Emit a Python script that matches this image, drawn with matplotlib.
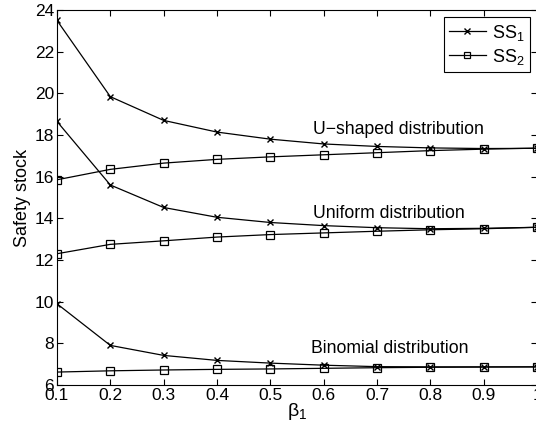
import matplotlib
matplotlib.use("Agg")
import matplotlib.pyplot as plt

plt.rcParams['font.family'] = ['Liberation Sans', 'DejaVu Sans']
plt.rcParams['mathtext.fontset'] = 'custom'
plt.rcParams['mathtext.rm'] = 'Liberation Sans'
plt.rcParams['mathtext.it'] = 'Liberation Sans'

beta = [0.1, 0.2, 0.3, 0.4, 0.5, 0.6, 0.7, 0.8, 0.9, 1.0]

u_ss1 = [23.5, 19.84, 18.7, 18.14, 17.8, 17.57, 17.45, 17.38, 17.35, 17.36]
u_ss2 = [15.85, 16.35, 16.65, 16.83, 16.95, 17.05, 17.15, 17.25, 17.32, 17.37]

un_ss1 = [18.65, 15.6, 14.52, 14.05, 13.8, 13.65, 13.55, 13.5, 13.52, 13.57]
un_ss2 = [12.3, 12.75, 12.92, 13.1, 13.22, 13.3, 13.38, 13.45, 13.5, 13.57]

bi_ss1 = [9.9, 7.9, 7.42, 7.18, 7.05, 6.95, 6.88, 6.87, 6.87, 6.87]
bi_ss2 = [6.62, 6.68, 6.72, 6.75, 6.77, 6.8, 6.83, 6.85, 6.86, 6.87]

labels = ["U\u2212shaped distribution", "Uniform distribution", "Binomial distribution"]
label_pos = [(0.58, 18.25), (0.58, 14.25), (0.577, 7.77)]

fig = plt.figure(figsize=(5.36, 4.29), dpi=100)
ax = fig.add_axes([0.1063, 0.1026, 0.8957, 0.8741])

ss1_kw = dict(color='black', lw=0.9, marker='x', ms=5, mew=1.0)
ss2_kw = dict(color='black', lw=0.9, marker='s', ms=5.2, mew=0.9, mfc='none')

h1, = ax.plot(beta, u_ss1, label=r'SS$_{\mathregular{1}}$', **ss1_kw)
h2, = ax.plot(beta, u_ss2, label=r'SS$_{\mathregular{2}}$', **ss2_kw)
ax.plot(beta, un_ss1, **ss1_kw)
ax.plot(beta, un_ss2, **ss2_kw)
ax.plot(beta, bi_ss1, **ss1_kw)
ax.plot(beta, bi_ss2, **ss2_kw)

for txt, (x, y) in zip(labels, label_pos):
    ax.text(x, y, txt, fontsize=12.7, va='center', ha='left')

ax.set_xlim(0.1, 1.0)
ax.set_ylim(6, 24)
ax.set_xticks([0.1, 0.2, 0.3, 0.4, 0.5, 0.6, 0.7, 0.8, 0.9, 1.0])
ax.set_xticklabels(['0.1', '0.2', '0.3', '0.4', '0.5', '0.6', '0.7', '0.8', '0.9', '1'])
ax.set_yticks(range(6, 25, 2))
ax.tick_params(direction='in', top=True, right=True, labelsize=12.5, length=4, pad=2)
for s in ax.spines.values():
    s.set_linewidth(0.8)

ax.set_ylabel('Safety stock', fontsize=13, labelpad=3)
ax.set_xlabel(r'$\mathrm{\beta_1}$', fontsize=14, labelpad=-1)

leg = ax.legend(handles=[h1, h2], loc='upper right', bbox_to_anchor=(0.985, 0.981),
                fontsize=13, fancybox=False, framealpha=1, edgecolor='black',
                handlelength=2.0, handletextpad=0.35, borderaxespad=0.0,
                borderpad=0.3, labelspacing=0.22, markerscale=0.8)
leg.get_frame().set_linewidth(0.8)

fig.savefig('out.png', dpi=100)
